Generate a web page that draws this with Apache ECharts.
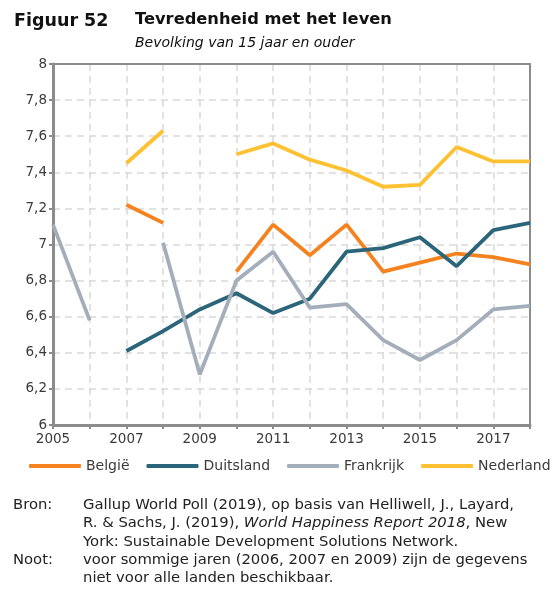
<!DOCTYPE html>
<html>
<head>
<meta charset="utf-8">
<script src="https://cdn.jsdelivr.net/npm/echarts@6/dist/echarts.min.js"></script>
<style>
html,body{margin:0;padding:0;background:#fff;}
#chart{width:555px;height:597px;}
</style>
</head>
<body>
<div id="chart"></div>
<script>
var years = ['2005','2006','2007','2008','2009','2010','2011','2012','2013','2014','2015','2016','2017','2018'];
var belgie     = [null, null, 7.22, 7.12, null, 6.85, 7.11, 6.94, 7.11, 6.85, 6.90, 6.95, 6.93, 6.89];
var duitsland  = [null, null, 6.41, 6.52, 6.64, 6.73, 6.62, 6.70, 6.96, 6.98, 7.04, 6.88, 7.08, 7.12];
var frankrijk  = [7.11, 6.58, null, 7.01, 6.28, 6.80, 6.96, 6.65, 6.67, 6.47, 6.36, 6.47, 6.64, 6.66];
var nederland  = [null, null, 7.45, 7.63, null, 7.50, 7.56, 7.47, 7.41, 7.32, 7.33, 7.54, 7.46, 7.46];
var seriesNames = ['België', 'Duitsland', 'Frankrijk', 'Nederland'];
var colors = ['#F5821E', '#2B6579', '#A4AEBB', '#FEC132'];

var FONT = 'DejaVu Sans';
var TXT = '#3a3a3a';
var BORDER = '#8C8C8C';

var chart = echarts.init(document.getElementById('chart'), null, {renderer: 'canvas'});

function mkSeries(name, data, color) {
  return {
    name: name, type: 'line', data: data, symbol: 'none', connectNulls: false,
    lineStyle: {width: 3.8, color: color, cap: 'butt'}, itemStyle: {color: color},
    emphasis: {disabled: true}, z: 5
  };
}

chart.setOption({
  animation: false,
  textStyle: {fontFamily: FONT},
  grid: {left: 53, right: 25, top: 64, bottom: 172},
  legend: {
    data: seriesNames, left: 29, top: 459, width: 540, orient: 'horizontal', padding: 0,
    icon: 'roundRect', itemWidth: 52, itemHeight: 4, itemGap: 17,
    textStyle: {fontFamily: FONT, fontSize: 14, color: TXT}
  },
  xAxis: [{
    type: 'category', data: years, boundaryGap: false,
    axisLine: {lineStyle: {color: BORDER, width: 3}},
    axisTick: {show: true, interval: 0, length: 4, lineStyle: {color: BORDER, width: 2}},
    axisLabel: {interval: 1, fontFamily: FONT, fontSize: 13.5, color: TXT, margin: 7},
    splitLine: {show: true, interval: 0, lineStyle: {color: '#D9D9D9', width: 1.5, type: [7, 5]}},
    z: 3
  }, {
    type: 'category', data: years, boundaryGap: false, position: 'top',
    axisLine: {show: true, lineStyle: {color: BORDER, width: 2}},
    axisTick: {show: false}, axisLabel: {show: false}, splitLine: {show: false}, z: 3
  }],
  yAxis: [{
    type: 'value', min: 6, max: 8, interval: 0.2,
    axisLine: {show: true, lineStyle: {color: BORDER, width: 3}},
    axisTick: {show: true, length: 4, lineStyle: {color: BORDER, width: 2}},
    axisLabel: {fontFamily: FONT, fontSize: 13.5, color: TXT, margin: 6,
      formatter: function (v) { return String(Math.round(v * 10) / 10).replace('.', ','); }},
    splitLine: {show: true, lineStyle: {color: '#D9D9D9', width: 1.5, type: [7, 5]}},
    z: 3
  }, {
    type: 'value', min: 6, max: 8, interval: 0.2, position: 'right',
    axisLine: {show: true, lineStyle: {color: BORDER, width: 2}},
    axisTick: {show: false}, axisLabel: {show: false}, splitLine: {show: false}, z: 3
  }],
  series: [
    mkSeries(seriesNames[0], belgie, colors[0]),
    mkSeries(seriesNames[1], duitsland, colors[1]),
    mkSeries(seriesNames[2], frankrijk, colors[2]),
    mkSeries(seriesNames[3], nederland, colors[3])
  ],
  graphic: [
    {type: 'text', left: 14, top: 12, style: {text: 'Figuur 52', fontFamily: FONT, fontWeight: 'bold', fontSize: 17.5, fill: '#111'}},
    {type: 'text', left: 135, top: 12, style: {text: 'Tevredenheid met het leven', fontFamily: FONT, fontWeight: 'bold', fontSize: 16.3, fill: '#111'}},
    {type: 'text', left: 135, top: 36, style: {text: 'Bevolking van 15 jaar en ouder', fontFamily: FONT, fontStyle: 'italic', fontSize: 14, fill: '#111'}},
    {type: 'text', left: 13, top: 496, style: {text: 'Bron:', fontFamily: FONT, fontSize: 14.8, fill: '#222', lineHeight: 18.4}},
    {type: 'text', left: 83, top: 496, style: {
      text: 'Gallup World Poll (2019), op basis van Helliwell, J., Layard,\nR. & Sachs, J. (2019), {i|World Happiness Report 2018}, New\nYork: Sustainable Development Solutions Network.',
      fontFamily: FONT, fontSize: 14.8, fill: '#222', lineHeight: 18.4,
      rich: {i: {fontStyle: 'italic', fontFamily: FONT, fontSize: 14.8, fill: '#222', lineHeight: 18.4}}}},
    {type: 'text', left: 13, top: 551, style: {text: 'Noot:', fontFamily: FONT, fontSize: 14.8, fill: '#222', lineHeight: 18.4}},
    {type: 'text', left: 83, top: 551, style: {
      text: 'voor sommige jaren (2006, 2007 en 2009) zijn de gegevens\nniet voor alle landen beschikbaar.',
      fontFamily: FONT, fontSize: 14.8, fill: '#222', lineHeight: 18.4}}
  ]
});
</script>
</body>
</html>
